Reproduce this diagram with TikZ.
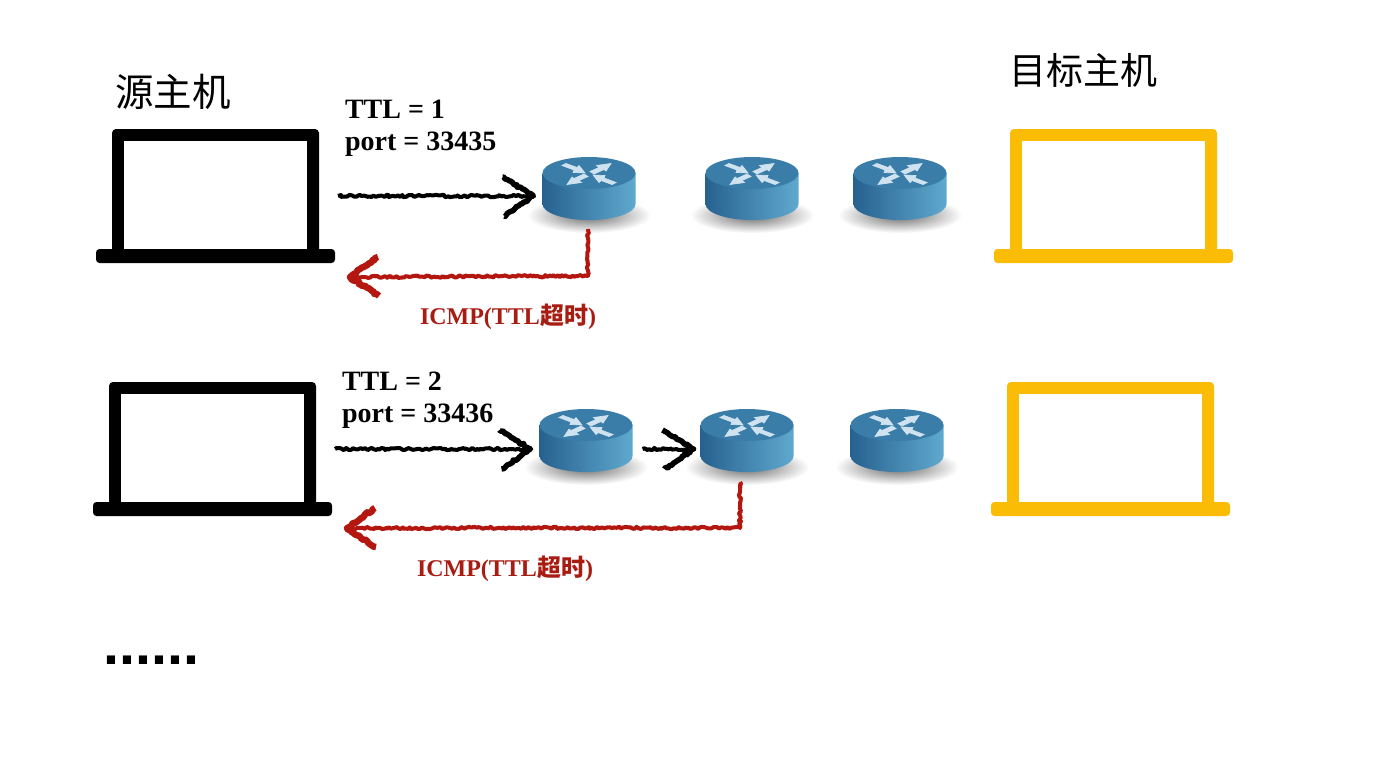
\documentclass[tikz,border=0pt]{standalone}
\usepackage{fontspec}
\setmainfont{Liberation Serif}
\newfontfamily\cjk{Noto Sans CJK SC}
\newfontfamily\cjkb{Noto Sans CJK SC Bold}
\newfontfamily\dotfont{Liberation Sans Bold}
\usetikzlibrary{calc,decorations.pathmorphing}
\definecolor{rdtop}{HTML}{397DA8}
\definecolor{rdleft}{HTML}{27618F}
\definecolor{rdright}{HTML}{5FA9CE}
\definecolor{rdarrow}{HTML}{CFE2EF}
\definecolor{lapyellow}{HTML}{FBBC05}
\definecolor{redline}{HTML}{B3170F}
\definecolor{redtext}{HTML}{A81C12}
\tikzset{
  routerbox/.style={rectangle,minimum width=93pt,minimum height=64pt,inner sep=0pt,outer sep=0pt},
  lapbox/.style={rectangle,minimum width=239pt,minimum height=134pt,inner sep=0pt,outer sep=0pt},
  lbl/.style={anchor=base west,inner sep=0pt,outer sep=0pt,font=\bfseries\fontsize{28}{28}\selectfont,text=black},
  icmp/.style={anchor=base west,inner sep=0pt,outer sep=0pt,font=\bfseries\fontsize{24}{24}\selectfont,text=redtext},
  title/.style={anchor=base west,inner sep=0pt,outer sep=0pt,font=\cjk\fontsize{38.5}{38}\selectfont,text=black},
  titleb/.style={anchor=base west,inner sep=0pt,outer sep=0pt,font=\cjk\fontsize{37}{37}\selectfont,text=black},
  rough/.style={line width=4pt,decorate,decoration={random steps,segment length=2pt,amplitude=1.2pt},line join=round},
  blackline/.style={rough,draw=black},
  redrough/.style={rough,draw=redline},
  barb/.style={line width=5.5pt,decorate,decoration={random steps,segment length=2pt,amplitude=1.1pt},line join=round},
  padarrow/.style={fill=rdarrow,draw=rdarrow,line width=0.7pt}
}
\newcommand{\routerat}[3]{%
  \begin{scope}[shift={(#1,#2)}]
    \shade[inner color=black!60,outer color=white] (0,26) ellipse [x radius=62,y radius=18];
    \shade[left color=rdleft,right color=rdright]
      (-46.5,-16) -- (-46.5,15) arc[start angle=180,end angle=0,x radius=46.5,y radius=16] -- (46.5,-16) -- cycle;
    \fill[rdtop] (0,-16) ellipse [x radius=46.5,y radius=16];
    \begin{scope}[shift={(0,-16)}]
      \fill[padarrow] (-27,-7.5) -- (-23,-9.5) -- (-12,-5.5) -- (-10,-7.5) -- (-4,0) -- (-16,-0.5) -- (-15,-3) -- cycle;
      \fill[padarrow] (1,-1.5) -- (10,-5.5) -- (7.5,-7.5) -- (22,-9.5) -- (17,-2) -- (15,-3.5) -- (5,1) -- cycle;
      \fill[padarrow] (-1,3.5) -- (-10,7.5) -- (-7.5,9.5) -- (-22,11.5) -- (-17,4) -- (-15,5.5) -- (-5,1) -- cycle;
      \fill[padarrow] (27,9.5) -- (23,11.5) -- (12,7.5) -- (10,9.5) -- (4,2) -- (16,2.5) -- (15,5) -- cycle;
    \end{scope}
  \end{scope}
  \node[routerbox] (#3) at (#1,#2) {};}
\newcommand{\laptopat}[4]{%
  \begin{scope}[shift={(#1,#2)}]
    \fill[#3,rounded corners=4pt] (112,129) -- (319,129) -- (319,255) -- (112,255) -- cycle;
    \fill[white] (124,141) rectangle (307,249);
    \fill[#3,rounded corners=3.5pt] (96,249) -- (335,249) -- (335,263) -- (96,263) -- cycle;
  \end{scope}
  \node[lapbox] (#4) at ($(#1,#2)+(215.5,196)$) {};}
\begin{document}
\begin{tikzpicture}[x=1pt,y=-1pt]
\useasboundingbox (0,0) rectangle (1400,756);
\fill[white] (0,0) rectangle (1400,756);

\node[title] (srcT) at (115,106) {源主机};
\node[titleb] (dstT) at (1009,84) {目标主机};

\laptopat{0}{0}{black}{la}
\laptopat{898}{0}{lapyellow}{lb}
\laptopat{-3}{253}{black}{lc}
\laptopat{895}{253}{lapyellow}{ld}

\routerat{589}{189}{ra}
\routerat{752}{189}{rb}
\routerat{900}{189}{rc}
\routerat{586}{441}{rd}
\routerat{747}{441}{re}
\routerat{897}{441}{rf}

\node[lbl] (t1) at (345,118) {TTL = 1};
\node[lbl] (p1) at (345,150) {port = 33435};
\node[lbl] (t2) at (342,390) {TTL = 2};
\node[lbl] (p2) at (342,422) {port = 33436};
\node[icmp] (i1) at (420,324) {ICMP(TTL{\cjkb 超时})};
\node[icmp] (i2) at (417,576) {ICMP(TTL{\cjkb 超时})};
\node[anchor=base west,inner sep=0pt,font=\dotfont\fontsize{57.5}{58}\selectfont] (dots) at (103,664) {......};

% row 1
\coordinate (a1) at ($(la.east)+(3,0)$);
\coordinate (a1e) at ($(ra.west)+(-9,7)$);
\draw[blackline] (a1 |- a1e) -- (a1e);
\draw[barb,draw=black] ($(a1e)+(-31,-19)$) -- (a1e) -- ($(a1e)+(-29,20)$);
\coordinate (b1) at ($(ra.south)+(-1,8)$);
\coordinate (b1c) at ($(b1)+(0,47)$);
\coordinate (b1e) at (350,277);
\draw[redrough] (b1) -- (b1c) -- (b1e);
\draw[barb,draw=redline,line width=6.5pt] ($(b1e)+(28,-20)$) -- (b1e) -- ($(b1e)+(29,19)$);

% row 2
\coordinate (a2s) at ($(lc.east)+(3,0)$);
\coordinate (a2e) at ($(rd.west)+(-9,8)$);
\draw[blackline] (a2s |- a2e) -- (a2e);
\draw[barb,draw=black] ($(a2e)+(-31,-19)$) -- (a2e) -- ($(a2e)+(-29,20)$);
\coordinate (a3s) at ($(rd.east)+(10,8)$);
\coordinate (a3e) at ($(re.west)+(-7,8)$);
\draw[blackline] (a3s) -- (a3e);
\draw[barb,draw=black] ($(a3e)+(-31,-19)$) -- (a3e) -- ($(a3e)+(-29,20)$);
\coordinate (b2) at ($(re.south)+(-7,9)$);
\coordinate (b2c) at ($(b2)+(0,46)$);
\coordinate (b2e) at (347,528);
\draw[redrough] (b2) -- (b2c) -- (b2e);
\draw[barb,draw=redline,line width=6.5pt] ($(b2e)+(28,-20)$) -- (b2e) -- ($(b2e)+(29,19)$);
\end{tikzpicture}
\end{document}
